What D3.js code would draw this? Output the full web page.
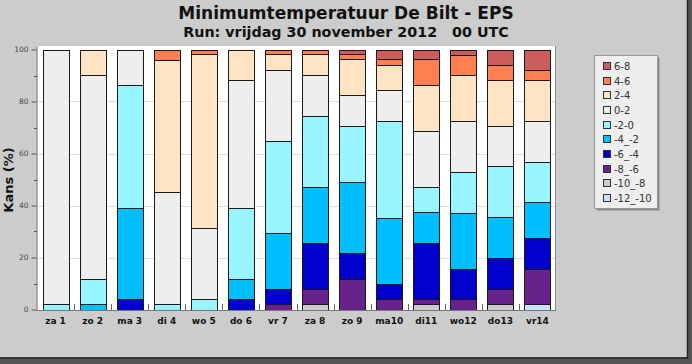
<!DOCTYPE html>
<html>
<head>
<meta charset="utf-8">
<script src="https://cdn.jsdelivr.net/npm/d3@7"></script>
<style>
  html, body { margin: 0; padding: 0; background: #555; }
  svg { display: block; }
  text { font-family: "DejaVu Sans", sans-serif; }
</style>
</head>
<body>
<svg id="chart" width="692" height="364"></svg>
<script>
// ---- data ----
const days = ["za 1", "zo 2", "ma 3", "di 4", "wo 5", "do 6", "vr 7", "za 8", "zo 9", "ma10", "di11", "wo12", "do13", "vr14"];
const classes = ["-12_-10", "-10_-8", "-8_-6", "-6_-4", "-4_-2", "-2-0", "0-2", "2-4", "4-6", "6-8"];
const classColors = ["#cae1ff", "#cccccc", "#68228b", "#0000cd", "#00bfff", "#98f5ff", "#eeeeee", "#ffe4c4", "#ff7f50", "#cd5c5c"];
// kans (%) per class, per day
const s_m12_m10 = [0, 0, 0, 0, 0, 0, 0, 0, 0, 0, 0, 0, 0, 2.0];
const s_m10_m8  = [0, 0, 0, 0, 0, 0, 0, 2.0, 0, 0, 2.0, 0, 2.0, 0];
const s_m8_m6   = [0, 0, 0, 0, 0, 0, 2.0, 5.9, 11.8, 3.9, 2.0, 3.9, 5.9, 13.7];
const s_m6_m4   = [0, 0, 3.9, 0, 0, 3.9, 5.9, 17.6, 9.8, 5.9, 21.6, 11.8, 11.8, 11.8];
const s_m4_m2   = [0, 2.0, 35.3, 0, 0, 7.8, 21.6, 21.6, 27.5, 25.5, 11.8, 21.6, 15.7, 13.7];
const s_m2_0    = [2.0, 9.8, 47.1, 2.0, 3.9, 27.5, 35.3, 27.5, 21.6, 37.3, 9.8, 15.7, 19.6, 15.7];
const s_0_2     = [98.0, 78.4, 13.7, 43.1, 27.5, 49.0, 27.5, 15.7, 11.8, 11.8, 21.6, 19.6, 15.7, 15.7];
const s_2_4     = [0, 9.8, 0, 51.0, 66.7, 11.8, 5.9, 7.8, 13.7, 9.8, 17.6, 17.6, 17.6, 15.7];
const s_4_6     = [0, 0, 0, 3.9, 2.0, 0, 2.0, 2.0, 2.0, 2.0, 9.8, 7.8, 5.9, 3.9];
const s_6_8     = [0, 0, 0, 0, 0, 0, 0, 0, 2.0, 3.9, 3.9, 2.0, 5.9, 7.8];
const yTicks = [0, 20, 40, 60, 80, 100];
const titleText = "Minimumtemperatuur De Bilt - EPS";
const subtitleText = "Run: vrijdag 30 november 2012   00 UTC";
const yLabel = "Kans (%)";

const seriesArrays = [s_m12_m10, s_m10_m8, s_m8_m6, s_m6_m4, s_m4_m2, s_m2_0, s_0_2, s_2_4, s_4_6, s_6_8];
const table = days.map((d, i) => {
  const row = { day: d };
  classes.forEach((c, k) => { row[c] = seriesArrays[k][i]; });
  return row;
});

// ---- layout ----
const svg = d3.select("#chart");
const plot = { left: 37, right: 556, top: 46, bottom: 310 };

// frame + shadow
svg.append("rect").attr("x", 0).attr("y", 0).attr("width", 692).attr("height", 364).attr("fill", "#555");
svg.append("rect").attr("x", 0).attr("y", 0).attr("width", 687).attr("height", 357.5)
  .attr("fill", "#cccccc");
svg.append("line").attr("x1", 687.5).attr("x2", 687.5).attr("y1", 0).attr("y2", 358.5).attr("stroke", "#222").attr("stroke-width", 1.5);
svg.append("line").attr("x1", 0).attr("x2", 688).attr("y1", 358).attr("y2", 358).attr("stroke", "#222").attr("stroke-width", 1.5);

// titles
svg.append("text").attr("x", 346).attr("y", 19).attr("text-anchor", "middle")
  .attr("font-size", 17).attr("font-weight", "bold").attr("fill", "#111").text(titleText);
svg.append("text").attr("x", 346).attr("y", 37).attr("text-anchor", "middle")
  .attr("font-size", 14.3).attr("font-weight", "bold").attr("fill", "#111")
  .style("white-space", "pre").text(subtitleText);

// plot background
svg.append("rect").attr("x", plot.left).attr("y", plot.top)
  .attr("width", plot.right - plot.left).attr("height", plot.bottom - plot.top).attr("fill", "#fff");

const x = d3.scaleBand().domain(days).range([plot.left, plot.right]).paddingInner(0.3).paddingOuter(0.15);
const y = d3.scaleLinear().domain([0, 100]).range([309.5, 49.5]);

// grid
svg.append("g").selectAll("line").data(yTicks.filter(t => t > 0 && t < 100)).join("line")
  .attr("x1", plot.left).attr("x2", plot.right)
  .attr("y1", d => Math.round(y(d)) + 0.5).attr("y2", d => Math.round(y(d)) + 0.5)
  .attr("stroke", "#dddddd").attr("stroke-width", 1);

// stacked bars
const stack = d3.stack().keys(classes)(table);
const gBars = svg.append("g");
stack.forEach((layer, k) => {
  gBars.append("g").selectAll("rect").data(layer.filter(d => d[1] - d[0] > 0)).join("rect")
    .attr("x", d => Math.round(x(d.data.day)) + 0.5)
    .attr("width", Math.round(x.bandwidth()))
    .attr("y", d => Math.round(y(Math.min(d[1], 100))) + 0.5)
    .attr("height", d => Math.round(y(d[0])) - Math.round(y(Math.min(d[1], 100))))
    .attr("fill", classColors[k])
    .attr("stroke", "#1a1a1a").attr("stroke-width", 1);
});

// axes
const yAxis = d3.axisLeft(y).tickValues(yTicks).tickSize(5).tickPadding(3);
const gy = svg.append("g").attr("transform", `translate(${plot.left - 0.5},0)`).call(yAxis);
gy.select(".domain").attr("stroke", "#777").attr("d", `M0.5,${plot.top}V${plot.bottom + 0.5}`);
gy.selectAll(".tick line").attr("stroke", "#555");
gy.selectAll(".tick text").attr("font-size", 7.5).attr("fill", "#444").attr("font-family", "DejaVu Sans, sans-serif");
// minor ticks
const minor = d3.range(10, 100, 20);
svg.append("g").selectAll("line").data(minor).join("line")
  .attr("x1", plot.left - 3).attr("x2", plot.left)
  .attr("y1", d => Math.round(y(d)) + 0.5).attr("y2", d => Math.round(y(d)) + 0.5)
  .attr("stroke", "#555");

// right border
svg.append("line").attr("x1", plot.right - 0.5).attr("x2", plot.right - 0.5)
  .attr("y1", plot.top).attr("y2", plot.bottom + 0.5).attr("stroke", "#888");

// x axis
const xAxis = d3.axisBottom(x).tickSize(0).tickPadding(8);
const gx = svg.append("g").attr("transform", `translate(0,${plot.bottom})`).call(xAxis);
gx.select(".domain").attr("stroke", "#777").attr("d", `M${plot.left},0.5H${plot.right}`);
gx.selectAll(".tick text").attr("font-size", 9).attr("font-weight", "bold").attr("fill", "#111")
  .attr("font-family", "DejaVu Sans, sans-serif");
// boundary ticks between categories
const step = x.step();
const bounds = d3.range(1, days.length).map(i => x(days[i]) - step * x.paddingInner() / 2);
svg.append("g").selectAll("line").data(bounds).join("line")
  .attr("x1", d => Math.round(d) + 0.5).attr("x2", d => Math.round(d) + 0.5)
  .attr("y1", plot.bottom - 6).attr("y2", plot.bottom)
  .attr("stroke", "#666");

// y label
svg.append("text").attr("transform", "translate(12.5,180) rotate(-90)")
  .attr("text-anchor", "middle").attr("font-size", 13).attr("font-weight", "bold").attr("fill", "#111")
  .text(yLabel);

// legend
const lg = svg.append("g");
lg.append("rect").attr("x", 596.5).attr("y", 57.5).attr("width", 63).attr("height", 153).attr("fill", "#888");
lg.append("rect").attr("x", 594.5).attr("y", 55.5).attr("width", 63).attr("height", 153)
  .attr("fill", "#eeeeee").attr("stroke", "#999");
const legendOrder = classes.slice().reverse();
const legendColors = classColors.slice().reverse();
const ly = d3.scalePoint().domain(legendOrder).range([66, 198]);
const items = lg.selectAll("g.item").data(legendOrder).join("g").attr("class", "item")
  .attr("transform", d => `translate(0,${Math.round(ly(d))})`);
items.append("rect").attr("x", 603.5).attr("y", -3.5).attr("width", 7).attr("height", 7)
  .attr("fill", (d, i) => legendColors[i]).attr("stroke", "#333");
items.append("text").attr("x", 614).attr("y", 4).attr("font-size", 10).attr("fill", "#333")
  .text(d => d);
</script>
</body>
</html>
